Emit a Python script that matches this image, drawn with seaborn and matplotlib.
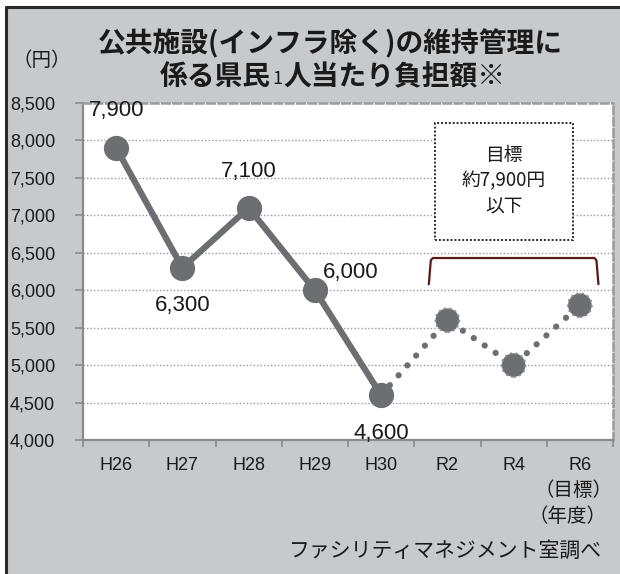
import numpy as np
import pandas as pd
import matplotlib
matplotlib.use("Agg")
import matplotlib.pyplot as plt
from matplotlib.patches import Rectangle
from matplotlib.lines import Line2D
from matplotlib.text import Annotation
import seaborn as sns

# Data
categories = ["H26", "H27", "H28", "H29", "H30", "R2", "R4", "R6"]
actual_years = ["H26", "H27", "H28", "H29", "H30"]
actual_values = [7900, 6300, 7100, 6000, 4600]
plan_years = ["H30", "R2", "R4", "R6"]
plan_values = [4600, 5600, 5000, 5800]
y_ticks = [4000, 4500, 5000, 5500, 6000, 6500, 7000, 7500, 8000, 8500]

sns.set_theme(style="white")
plt.rcParams["font.family"] = ["Noto Sans CJK JP", "DejaVu Sans"]

pos = {c: i for i, c in enumerate(categories)}
df_act = pd.DataFrame({"x": [pos[c] for c in actual_years], "y": actual_values})
df_plan = pd.DataFrame({"x": [pos[c] for c in plan_years], "y": plan_values})

W, H = 620, 574
fig = plt.figure(figsize=(W / 100, H / 100), dpi=100, facecolor="white")

# Gray panel with dark frame on top and left
bg = "#c8c9cb"
fig.patches.append(Rectangle((6 / W, 0), 1, 1 - 7 / H, transform=fig.transFigure,
                             facecolor=bg, edgecolor="none", zorder=-5))
fig.lines.append(Line2D([6 / W, 1], [1 - 7 / H, 1 - 7 / H], transform=fig.transFigure,
                        color="#2a2a2a", lw=2.2, zorder=-4))
fig.lines.append(Line2D([6 / W, 6 / W], [0, 1 - 7 / H], transform=fig.transFigure,
                        color="#2a2a2a", lw=2.2, zorder=-4))

ax = fig.add_axes([83 / W, (H - 440) / H, (613 - 83) / W, (440 - 103) / H])
ax.set_zorder(1)
ax.set_facecolor("white")

gray = "#6d6e71"
sns.lineplot(data=df_plan, x="x", y="y", ax=ax, color=gray, lw=4.5,
             linestyle=(0, (0.01, 2.1)), zorder=3)
ax.lines[-1].set_dash_capstyle("round")
sns.lineplot(data=df_act, x="x", y="y", ax=ax, color=gray, lw=4.5, zorder=4)
sns.scatterplot(data=df_act, x="x", y="y", ax=ax, color=gray, s=330,
                edgecolor=gray, linewidth=0, zorder=5)
sns.scatterplot(data=df_plan.iloc[1:], x="x", y="y", ax=ax, color=gray, s=290,
                edgecolor="#8a8b8e", linewidth=1.5, linestyle=":", zorder=5)

tick_font = ["Liberation Sans", "DejaVu Sans"]
ax.set_xlim(-0.5, len(categories) - 0.5)
ax.set_ylim(4000, 8500)
ax.set_yticks(y_ticks)
ax.set_yticklabels([f"{v:,}" for v in y_ticks], fontsize=13, color="#1a1a1a", family=tick_font)
ax.set_xticks(range(len(categories)))
ax.set_xticklabels(categories, fontsize=13, color="#1a1a1a", family=tick_font)
ax.set_xticks(np.arange(-0.5, len(categories)), minor=True)
ax.tick_params(axis="x", which="major", length=0, pad=12)
ax.tick_params(axis="x", which="minor", length=5, width=1.2, color="#8a8a8a",
               direction="out", bottom=True)
ax.tick_params(axis="y", which="major", length=6, width=1.2, color="#8a8a8a",
               direction="out", pad=14, left=True)
ax.set_xlabel("")
ax.set_ylabel("")

for y in y_ticks[1:-1]:
    ax.axhline(y, color="#9a9a9a", lw=1.0, linestyle=(0, (1, 1.5)), zorder=1)

for s in ["left", "bottom"]:
    ax.spines[s].set_color("#8a8a8a")
    ax.spines[s].set_linewidth(1.6)
for s in ["top", "right"]:
    ax.spines[s].set_color("#9a9a9a")
    ax.spines[s].set_linewidth(1.8)
    ax.spines[s].set_linestyle((0, (3, 1.5)))

# Value labels
lab_font = dict(fontsize=16, color="#1a1a1a", family=tick_font)
offsets = {"H26": (0, 27), "H27": (0, -27), "H28": (0, 26), "H29": (26, 13), "H30": (0, -28)}
for c, v in zip(actual_years, actual_values):
    dx, dy = offsets[c]
    ax.annotate(f"{v:,}", (pos[c], v), xytext=(dx, dy), textcoords="offset points",
                ha="center", va="center", **lab_font)

# Target note box
bx0, bx1 = 435, 573
by0, by1 = 123, 240
fig.patches.append(Rectangle((bx0 / W, 1 - by1 / H), (bx1 - bx0) / W, (by1 - by0) / H,
                             transform=fig.transFigure, facecolor="white",
                             edgecolor="#2a2a2a", lw=1.4, linestyle=(0, (1, 1)), zorder=6))
fig.text((bx0 + bx1) / 2 / W, 1 - 181 / H, "目標\n約7,900円\n以下", ha="center", va="center",
         fontsize=13.5, linespacing=1.3, color="#1a1a1a", zorder=7)

# Bracket over the target period
bracket_y = 6430
ax.plot([4.72, 4.75, 4.78, 7.22, 7.25, 7.28],
        [6080, 6400, bracket_y, bracket_y, 6400, 6080],
        color="#5a1a1a", lw=1.6, zorder=6)

# Title: first line, then second line with a small "1"
title_kw = dict(fontsize=20, fontweight="bold", color="#1a1a1a")
fig.text(330 / W, 1 - 44 / H, "公共施設(インフラ除く)の維持管理に", ha="center", va="center",
         **title_kw)
t_a = fig.text(160 / W, 1 - 85 / H, "係る県民", ha="left", va="baseline", **title_kw)
t_b = Annotation("1", xy=(1, 0), xycoords=t_a, xytext=(1, 2.5), textcoords="offset points",
                 ha="left", va="bottom", fontsize=13, color="#1a1a1a")
fig.add_artist(t_b)
t_c = Annotation("人当たり負担額※", xy=(1, 0), xycoords=t_b, xytext=(1, -2.5),
                 textcoords="offset points", ha="left", va="bottom", **title_kw)
fig.add_artist(t_c)

fig.text(42 / W, 1 - 60 / H, "（円）", ha="center", va="center", fontsize=14, color="#1a1a1a")
fig.text(613 / W, 1 - 491 / H, "（目標）", ha="right", va="center", fontsize=14, color="#1a1a1a")
fig.text(607 / W, 1 - 517 / H, "（年度）", ha="right", va="center", fontsize=14, color="#1a1a1a")
fig.text(602 / W, 1 - 551 / H, "ファシリティマネジメント室調べ", ha="right", va="center",
         fontsize=15, color="#1a1a1a")

fig.savefig("out.png", dpi=100, facecolor=fig.get_facecolor())
